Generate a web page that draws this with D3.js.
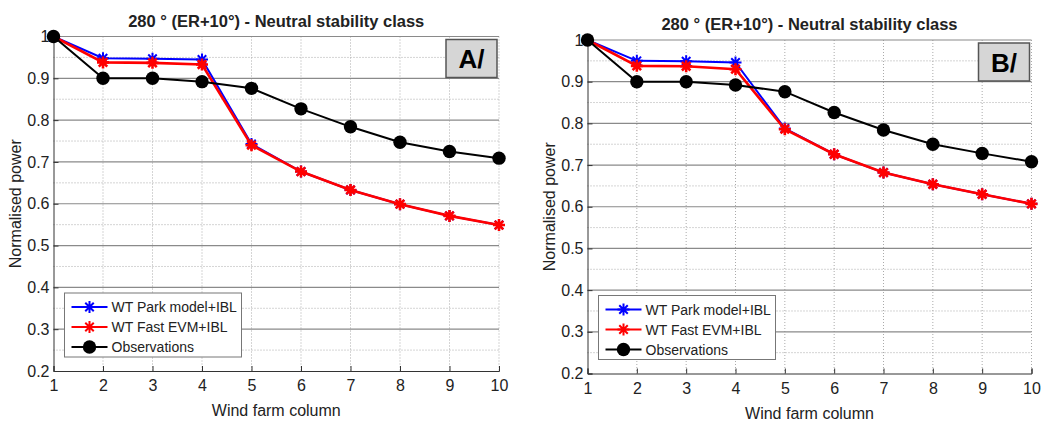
<!DOCTYPE html>
<html lang="en">
<meta charset="UTF-8">
<title>Normalised power per wind farm column</title>
<script src="https://d3js.org/d3.v7.min.js"></script>
<style>
body { margin: 0; background: #fff; }
text { font-family: "Liberation Sans", Arial, sans-serif; fill: #222; }
.title { font-size: 16.5px; font-weight: bold; }
.tick text { font-size: 16px; }
.axis-label { font-size: 16px; }
.legend text { font-size: 14px; }
.panel-tag { font-size: 26px; font-weight: bold; fill: #000; }
</style>
<body>
<svg width="1051" height="421"></svg>
<script>
// wind farm columns
const columns = [1, 2, 3, 4, 5, 6, 7, 8, 9, 10];

// panel A/
const parkA = [1.0, 0.948, 0.947, 0.945, 0.743, 0.677, 0.633, 0.599, 0.571, 0.549];
const fastA = [1.0, 0.938, 0.937, 0.933, 0.740, 0.677, 0.633, 0.599, 0.571, 0.549];
const obsA  = [1.0, 0.900, 0.900, 0.892, 0.876, 0.827, 0.784, 0.747, 0.725, 0.709];

// panel B/
const parkB = [1.0, 0.950, 0.949, 0.946, 0.788, 0.726, 0.682, 0.654, 0.630, 0.607];
const fastB = [1.0, 0.938, 0.937, 0.930, 0.786, 0.726, 0.682, 0.654, 0.630, 0.607];
const obsB  = [1.0, 0.900, 0.900, 0.892, 0.876, 0.826, 0.784, 0.750, 0.728, 0.708];

const yTicks = [0.2, 0.3, 0.4, 0.5, 0.6, 0.7, 0.8, 0.9, 1];
const yMinor = [0.25, 0.35, 0.45, 0.55, 0.65, 0.75, 0.85, 0.95];
const seriesNames = ['WT Park model+IBL', 'WT Fast EVM+IBL', 'Observations'];
const seriesColors = ['#0000ff', '#ff0000', '#000000'];
const seriesWidths = [2, 2.6, 2];

const svg = d3.select('svg');

const asterisk = r => {
  const d = r * Math.SQRT1_2;
  return `M0,${-r}L0,${r}M${-r},0L${r},0M${-d},${-d}L${d},${d}M${-d},${d}L${d},${-d}`;
};

function drawPanel(p) {
  const x = d3.scaleLinear().domain([1, 10]).range([p.left, p.right]);
  const y = d3.scaleLinear().domain([0.2, 1]).range([p.bottom, p.top]);
  const g = svg.append('g');

  // minor horizontal grid
  g.selectAll('.minor').data(yMinor).join('line')
    .attr('x1', p.left).attr('x2', p.right)
    .attr('y1', d => y(d)).attr('y2', d => y(d))
    .attr('stroke', '#aaa').attr('stroke-width', 1).attr('stroke-dasharray', '1,2');
  // vertical grid
  g.selectAll('.vgrid').data(columns.slice(1)).join('line')
    .attr('x1', d => x(d)).attr('x2', d => x(d))
    .attr('y1', p.top).attr('y2', p.bottom)
    .attr('stroke', '#aaa').attr('stroke-width', 1).attr('stroke-dasharray', '1,2');
  // major horizontal grid
  g.selectAll('.major').data(yTicks.slice(1)).join('line')
    .attr('x1', p.left).attr('x2', p.right)
    .attr('y1', d => y(d)).attr('y2', d => y(d))
    .attr('stroke', '#8a8a8a').attr('stroke-width', 1.2);

  // axes
  const yAxis = d3.axisLeft(y).tickValues(yTicks).tickSize(-5).tickPadding(4)
    .tickFormat(d => d === 1 ? '1' : d3.format('.1f')(d));
  const xAxis = d3.axisBottom(x).tickValues(columns).tickSize(-5).tickPadding(9);
  g.append('g').attr('transform', `translate(${p.left},0)`).call(yAxis)
    .call(a => a.selectAll('path, line').attr('stroke', '#333'));
  g.append('g').attr('transform', `translate(0,${p.bottom})`).call(xAxis)
    .call(a => a.selectAll('path, line').attr('stroke', '#333'));

  // series
  const series = [p.park, p.fast, p.obs];
  series.forEach((vals, i) => {
    const pts = columns.map((c, j) => [x(c), y(vals[j])]);
    g.append('path').attr('d', d3.line()(pts))
      .attr('fill', 'none').attr('stroke', seriesColors[i]).attr('stroke-width', seriesWidths[i]);
    if (i < 2) {
      g.selectAll(null).data(pts).join('path')
        .attr('transform', d => `translate(${d[0]},${d[1]})`)
        .attr('d', asterisk(6)).attr('stroke', seriesColors[i]).attr('stroke-width', seriesWidths[i]);
    } else {
      g.selectAll(null).data(pts).join('circle')
        .attr('cx', d => d[0]).attr('cy', d => d[1]).attr('r', 6.7)
        .attr('fill', '#000');
    }
  });

  // title and axis labels
  g.append('text').attr('class', 'title')
    .attr('x', (p.left + p.right) / 2).attr('y', p.top - 10)
    .attr('text-anchor', 'middle').text('280 ° (ER+10°) - Neutral stability class');
  g.append('text').attr('class', 'axis-label')
    .attr('x', (p.left + p.right) / 2).attr('y', p.bottom + 45)
    .attr('text-anchor', 'middle').text('Wind farm column');
  g.append('text').attr('class', 'axis-label')
    .attr('transform', `translate(${p.left - 33},${(p.top + p.bottom) / 2}) rotate(-90)`)
    .attr('text-anchor', 'middle').text('Normalised power');

  // panel tag
  g.append('rect').attr('x', p.right - 53).attr('y', p.top + 3)
    .attr('width', 51).attr('height', 38)
    .attr('fill', '#d6d6d6').attr('stroke', '#555').attr('stroke-width', 1.5);
  g.append('text').attr('class', 'panel-tag')
    .attr('x', p.right - 27.5).attr('y', p.top + 31.5)
    .attr('text-anchor', 'middle').text(p.tag);

  // legend
  const lg = g.append('g').attr('class', 'legend')
    .attr('transform', `translate(${p.left + 11},${p.bottom - 78})`);
  lg.append('rect').attr('width', 177).attr('height', 64)
    .attr('fill', '#fff').attr('stroke', '#777').attr('stroke-width', 1);
  seriesNames.forEach((name, i) => {
    const ly = 14 + i * 20;
    lg.append('line').attr('x1', 7).attr('x2', 43).attr('y1', ly).attr('y2', ly)
      .attr('stroke', seriesColors[i]).attr('stroke-width', 2);
    if (i < 2) {
      lg.append('path').attr('transform', `translate(25,${ly})`)
        .attr('d', asterisk(6)).attr('stroke', seriesColors[i]).attr('stroke-width', 2);
    } else {
      lg.append('circle').attr('cx', 25).attr('cy', ly).attr('r', 6.7).attr('fill', '#000');
    }
    lg.append('text').attr('x', 47).attr('y', ly + 5).text(name);
  });
}

drawPanel({left: 53.5, right: 499, top: 36.5, bottom: 371, tag: 'A/', park: parkA, fast: fastA, obs: obsA});
drawPanel({left: 587.5, right: 1031.5, top: 40, bottom: 373.5, tag: 'B/', park: parkB, fast: fastB, obs: obsB});
</script>
</body>
</html>
